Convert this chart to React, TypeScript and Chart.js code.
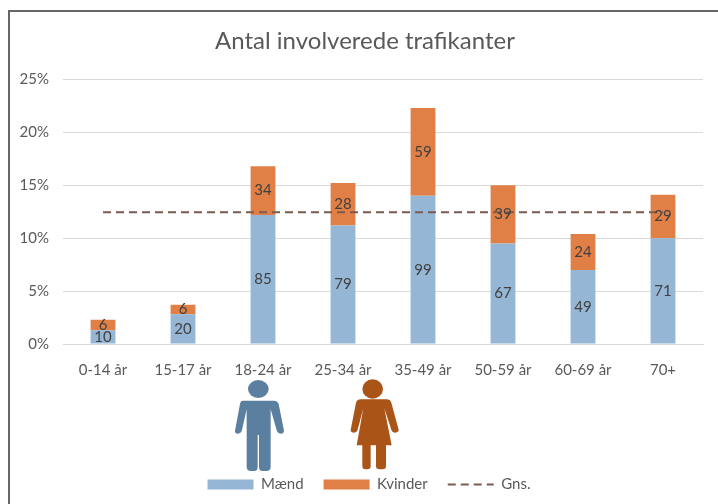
import React, { useEffect, useRef } from "react";
import { Chart, registerables } from "chart.js";

Chart.register(...registerables);

const categories = ["0-14 år", "15-17 år", "18-24 år", "25-34 år", "35-49 år", "50-59 år", "60-69 år", "70+"];
const malePct = [1.3, 2.8, 12.2, 11.2, 14.0, 9.5, 7.0, 10.0];
const femalePct = [1.0, 0.9, 4.6, 4.0, 8.3, 5.5, 3.4, 4.1];
const avgPct = [12.45, 12.45, 12.45, 12.45, 12.45, 12.45, 12.45, 12.45];
const maleCounts = [10, 20, 85, 79, 99, 67, 49, 71];
const femaleCounts = [6, 6, 34, 28, 59, 39, 24, 29];
const yTicks = [0, 5, 10, 15, 20, 25];

const FONT = "Lato, Carlito, 'Open Sans', sans-serif";
const MALE_PATH =
  "M128 92 L222 92 Q232 92 236 102 L252 182 Q252 190 243 191 Q234 191 231 184 L212 118 L212 290 Q212 303 198 303 L188 303 Q177 303 177 290 L177 195 L173 195 L173 290 Q173 303 162 303 L153 303 Q140 303 140 290 L140 118 L125 184 Q122 191 113 191 Q104 190 105 182 L120 102 Q122 92 128 92 Z";
const FEMALE_PATH =
  "M482 88 L560 88 Q570 88 574 98 L596 180 Q596 187 586 188 Q578 188 575 182 L553 115 L575 226 L558 226 L558 288 Q558 298 548 298 L538 298 Q528 298 528 288 L528 226 L512 226 L512 288 Q512 298 502 298 L496 298 Q487 298 487 288 L487 226 L470 226 L490 115 L472 182 Q468 188 461 188 Q451 187 452 180 L468 98 Q472 88 482 88 Z";

const segmentLabels = {
  id: "segmentLabels",
  afterDatasetsDraw(chart: any) {
    const { ctx } = chart;
    ctx.save();
    ctx.font = `15px ${FONT}`;
    ctx.fillStyle = "#404040";
    ctx.textAlign = "center";
    ctx.textBaseline = "middle";
    [maleCounts, femaleCounts].forEach((counts, d) => {
      chart.getDatasetMeta(d).data.forEach((bar: any, i: number) => {
        const p = bar.getProps(["x", "y", "base"], true);
        ctx.fillText(String(counts[i]), p.x, (p.y + p.base) / 2);
      });
    });
    ctx.restore();
  },
};

const figures = {
  id: "figures",
  afterDraw(chart: any) {
    const { ctx } = chart;
    ctx.save();
    ctx.translate(200, 370);
    ctx.scale(1 / 3, 1 / 3);
    ctx.fillStyle = "#5b7f9f";
    ctx.fill(new Path2D(MALE_PATH));
    ctx.beginPath();
    ctx.ellipse(175, 57, 31, 27, 0, 0, Math.PI * 2);
    ctx.fill();
    ctx.fillStyle = "#ab5418";
    ctx.fill(new Path2D(FEMALE_PATH));
    ctx.beginPath();
    ctx.ellipse(518, 57, 31, 29, 0, 0, Math.PI * 2);
    ctx.fill();
    ctx.restore();
  },
};

const placeBoxes = {
  id: "placeBoxes",
  afterLayout(chart: any) {
    chart.legend.left = 35;
    chart.legend.right = 703;
    chart.legend.top = 457;
    chart.titleBlock.left = 27;
    chart.titleBlock.right = 703;
  },
};

export default function App() {
  const ref = useRef<HTMLCanvasElement>(null);
  useEffect(() => {
    document.body.style.margin = "0";
    const chart = new Chart(ref.current as HTMLCanvasElement, {
      type: "bar",
      data: {
        labels: categories,
        datasets: [
          { label: "Mænd", data: malePct, backgroundColor: "#95b6d4", stack: "s", barPercentage: 0.62, categoryPercentage: 0.5, order: 2 },
          { label: "Kvinder", data: femalePct, backgroundColor: "#e08047", stack: "s", barPercentage: 0.62, categoryPercentage: 0.5, order: 2 },
          { type: "line", label: "Gns.", data: avgPct, borderColor: "#7b5b4f", borderWidth: 2, borderDash: [8, 5], pointRadius: 0, fill: false, order: 1 },
        ] as any,
      },
      options: {
        animation: false,
        responsive: false,
        layout: { padding: { left: 8, right: 15, top: 0, bottom: 0 } },
        plugins: {
          title: {
            display: true,
            text: "Antal involverede trafikanter",
            color: "#595959",
            font: { family: FONT, size: 24, weight: "normal" },
            padding: { top: 27, bottom: 23.6 },
          },
          legend: {
            position: "bottom",
            labels: {
              color: "#595959",
              font: { family: FONT, size: 15 },
              usePointStyle: true,
              pointStyleWidth: 46,
              boxHeight: 10,
              padding: 20,
              generateLabels: (c: any) =>
                c.data.datasets.map((ds: any, i: number) => ({
                  text: ds.label,
                  datasetIndex: i,
                  fontColor: "#595959",
                  fillStyle: ds.type === "line" ? "transparent" : ds.backgroundColor,
                  strokeStyle: ds.type === "line" ? ds.borderColor : ds.backgroundColor,
                  lineWidth: ds.type === "line" ? 2 : 0,
                  lineDash: ds.type === "line" ? ds.borderDash : [],
                  pointStyle: ds.type === "line" ? "line" : "rect",
                })),
            },
          },
          tooltip: { enabled: false },
        },
        scales: {
          x: {
            stacked: true,
            grid: { display: false },
            border: { color: "#d9d9d9" },
            ticks: { color: "#595959", font: { family: FONT, size: 15 }, padding: 9, maxRotation: 0 },
            afterFit: (s: any) => { s.height = 115; },
          },
          y: {
            stacked: true,
            min: 0,
            max: 25,
            afterBuildTicks: (s: any) => { s.ticks = yTicks.map((value) => ({ value })); },
            grid: { color: "#d9d9d9", drawTicks: false },
            border: { display: false },
            ticks: { color: "#595959", font: { family: FONT, size: 15 }, padding: 14, callback: (v: any) => `${v}%` },
            afterFit: (s: any) => { s.width = 55; },
          },
        },
      } as any,
      plugins: [placeBoxes, segmentLabels, figures],
    });
    return () => chart.destroy();
  }, []);
  return (
    <div style={{ position: "relative", width: 718, height: 504, background: "#fff", overflow: "hidden" }}>
      <canvas ref={ref} width={718} height={504} style={{ display: "block" }} />
      <div style={{ position: "absolute", left: 8, top: 10, right: 0, bottom: 0, borderLeft: "2px solid #666", borderTop: "2px solid #666" }} />
    </div>
  );
}
